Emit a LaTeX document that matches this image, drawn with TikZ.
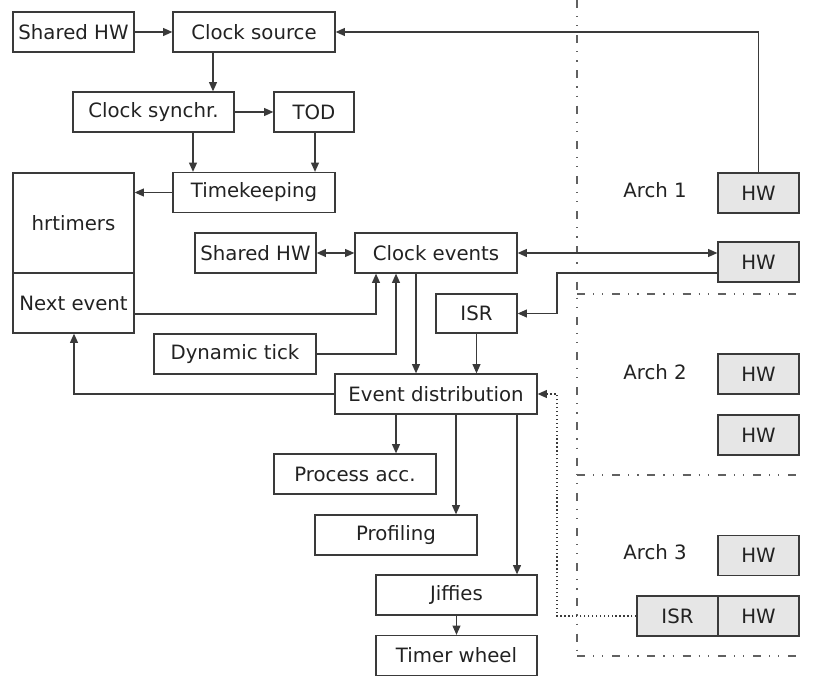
\documentclass[tikz,border=0pt]{standalone}
\usepackage{fontspec}
\setmainfont{DejaVu Sans}
\usetikzlibrary{arrows.meta,calc}
\definecolor{ln}{HTML}{3A3A3A}
\definecolor{tx}{HTML}{222222}
\definecolor{hwfill}{HTML}{E6E6E6}
\begin{document}
\begin{tikzpicture}[x=0.75pt,y=-0.75pt,
  every node/.style={font=\fontsize{14.8}{17}\selectfont, text=tx},
  box/.style={draw=ln, line width=0.95pt, inner sep=0pt, anchor=center},
  hwbox/.style={box, fill=hwfill, minimum width=60.75pt, minimum height=30pt},
  conn/.style={draw=ln, line width=0.95pt, -{Triangle[length=7pt,width=6pt]}},
  bconn/.style={draw=ln, line width=0.95pt, {Triangle[length=7pt,width=6pt]}-{Triangle[length=7pt,width=6pt]}},
  dotconn/.style={draw=ln, line width=0.95pt, dotted, -{Triangle[length=7pt,width=6pt]}},
  archline/.style={draw=ln!80, line width=0.9pt, dash pattern=on 6pt off 6pt on 0.9pt off 6pt on 0.9pt off 6.6pt},
  lbl/.style={anchor=center, inner sep=0pt}
]
\useasboundingbox (0,0) rectangle (821,684);

% left / middle boxes
\node[box, minimum width=90.75pt, minimum height=30pt] (shw1) at (73.5,32) {Shared HW};
\node[box, minimum width=121.5pt, minimum height=30pt] (csrc) at (254,32) {Clock source};
\node[box, minimum width=120.75pt, minimum height=30pt] (csync) at (153.5,112) {Clock synchr.};
\node[box, minimum width=60pt, minimum height=30pt] (tod) at (314,112) {TOD};
\node[box, minimum width=121.5pt, minimum height=30pt] (tk) at (254,192.5) {Timekeeping};
\node[box, minimum width=90.75pt, minimum height=75pt] (hrt) at (73.5,223) {hrtimers};
\node[box, minimum width=90.75pt, minimum height=45pt] (next) at (73.5,303) {Next event};
\node[box, minimum width=90.75pt, minimum height=30pt] (shw2) at (255.5,253) {Shared HW};
\node[box, minimum width=121.5pt, minimum height=30pt] (cev) at (436,253) {Clock events};
\node[box, minimum width=60.75pt, minimum height=29.25pt] (isr) at (476.5,313.5) {ISR};
\node[box, minimum width=121.5pt, minimum height=30pt] (dyn) at (235,354) {Dynamic tick};
\node[box, minimum width=151.5pt, minimum height=30pt] (evd) at (436,394) {Event distribution};
\node[box, minimum width=121.5pt, minimum height=30pt] (pacc) at (355,474) {Process acc.};
\node[box, minimum width=121.5pt, minimum height=30pt] (prof) at (396,535) {Profiling};
\node[box, minimum width=120.75pt, minimum height=30pt] (jif) at (456.5,595) {Jiffies};
\node[box, minimum width=120.75pt, minimum height=30pt] (tw) at (456.5,655.5) {Timer wheel};

% architecture side
\node[hwbox] (hw1a) at (758.5,193) {HW};
\node[hwbox] (hw1b) at (758.5,262) {HW};
\node[hwbox] (hw2a) at (758.5,374) {HW};
\node[hwbox] (hw2b) at (758.5,435) {HW};
\node[hwbox] (hw3a) at (758.5,555.5) {HW};
\node[hwbox] (hw3b) at (758.5,616) {HW};
\node[hwbox] (isr3) at (677.5,616) {ISR};
\node[lbl] (a1) at (655,190) {Arch 1};
\node[lbl] (a2) at (655,372) {Arch 2};
\node[lbl] (a3) at (655,552) {Arch 3};

% separators
\coordinate (vtop) at (577,0);
\coordinate (vbot) at (577,656);
\draw[archline] (vtop) -- (vbot);
\draw[archline] (577,294) -- (800,294);
\draw[archline] (577,475) -- (800,475);
\draw[archline] (577,656) -- (800,656);

% connectors
\draw[conn] (shw1.east) -- (csrc.west);
\draw[conn] (213,0 |- csrc.south) -- (213,0 |- csync.north);
\draw[conn] (csync.east) -- (tod.west);
\draw[conn] (193,0 |- csync.south) -- (193,0 |- tk.north);
\draw[conn] (315,0 |- tod.south) -- (315,0 |- tk.north);
\draw[conn] (tk.west) -- (tk.west -| hrt.east);
\draw[conn] (hw1a.north) |- (csrc.east);
\draw[bconn] (shw2.east) -- (cev.west);
\draw[bconn] (cev.east) -- (cev.east -| hw1b.west);
\draw[conn] (hw1b.west |- 0,273) -- (557,273) |- (isr.east);
\draw[conn] (next.east |- 0,314) -| (376,0 |- cev.south);
\draw[conn] (dyn.east) -| (396,0 |- cev.south);
\draw[conn] (416,0 |- cev.south) -- (416,0 |- evd.north);
\draw[conn] (isr.south) -- (isr.south |- evd.north);
\draw[conn] (evd.west) -| (74,0 |- next.south);
\draw[conn] (396,0 |- evd.south) -- (396,0 |- pacc.north);
\draw[conn] (456,0 |- evd.south) -- (456,0 |- prof.north);
\draw[conn] (517,0 |- evd.south) -- (517,0 |- jif.north);
\draw[conn] (jif.south) -- (tw.north);
\draw[dotconn] (isr3.west) -- (557,0 |- isr3.west) |- (evd.east);
\end{tikzpicture}
\end{document}
